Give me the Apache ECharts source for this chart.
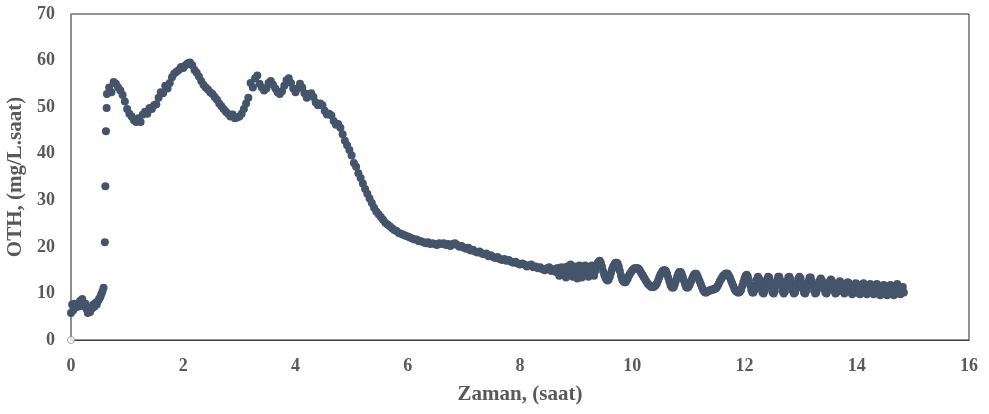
<!DOCTYPE html>
<html>
<head>
<meta charset="utf-8">
<script src="https://cdn.jsdelivr.net/npm/echarts@6/dist/echarts.min.js"></script>
<style>html,body{margin:0;padding:0;background:#fff;}#c{width:989px;height:414px;}</style>
</head>
<body>
<div id="c"></div>
<script>
// Axis definitions
const xTicks = [0, 2, 4, 6, 8, 10, 12, 14, 16];
const yTicks = [0, 10, 20, 30, 40, 50, 60, 70];
const xTitle = 'Zaman, (saat)';
const yTitle = 'OTH, (mg/L.saat)';

// Segment A: t = 0 .. 0.58 h, sampled every 0.02 h
const segAStart = 0, segAStep = 0.02;
const segAValues = [5.8,7.6,6.4,7.8,7.0,7.4,7.8,7.2,8.4,7.8,
                    8.8,8.0,7.2,7.8,6.6,5.8,6.6,6.0,7.0,6.8,
                    7.6,7.2,8.0,7.6,8.4,8.8,9.2,9.8,10.4,11.2];

// Jump (start-up) points
const jumpTimes  = [0.603, 0.612, 0.623, 0.635];
const jumpValues = [21.0, 33.0, 44.8, 49.8];

// Segment B: t = 0.64 .. 9.20 h, sampled every 0.04 h
const segBStart = 0.64, segBStep = 0.04;
const segBValues = [
  52.8,54.2,53.2,55.4,55.0,54.2,53.6,52.6,51.2,49.6,
  48.6,48.0,47.2,46.8,47.6,46.8,48.4,49.0,48.6,49.8,
  49.6,50.4,50.6,52.0,53.2,53.0,54.6,54.0,55.2,56.4,
  57.2,57.6,58.0,58.6,58.4,59.0,59.4,59.6,59.0,58.0,
  57.4,56.6,55.6,54.8,54.2,53.8,53.2,52.8,52.2,51.6,
  50.8,50.2,49.6,49.0,48.6,48.0,48.4,47.6,47.8,48.0,
  48.6,49.6,50.8,52.0,55.2,54.2,56.2,56.8,55.0,54.2,
  53.6,54.0,55.2,55.6,54.8,54.0,53.2,52.8,53.4,54.6,
  55.8,56.2,55.2,54.0,53.2,54.0,55.0,54.2,53.0,52.0,
  52.8,53.0,52.2,51.0,50.4,50.8,50.4,49.2,48.4,48.6,
  48.2,47.0,46.2,46.4,45.6,44.2,42.8,41.8,40.8,39.6,
  38.0,37.2,35.8,34.8,33.6,32.4,31.4,30.4,29.4,28.4,
  27.6,27.0,26.4,25.8,25.2,24.8,24.4,24.0,23.6,23.4,
  23.0,22.8,22.6,22.4,22.2,22.0,21.8,21.6,21.6,21.2,
  21.2,21.0,20.8,21.0,20.6,20.8,20.6,20.4,20.8,20.6,
  20.8,20.4,20.6,20.2,20.6,20.8,20.4,20.0,20.2,19.8,
  19.6,19.8,19.2,19.4,19.0,18.8,19.0,18.6,18.4,18.6,
  18.0,18.2,17.8,17.6,17.8,17.4,17.2,17.4,17.0,17.2,
  16.8,16.6,16.8,16.4,16.2,16.4,16.2,15.8,16.0,16.2,
  15.6,15.8,15.4,15.6,15.2,15.0,15.4,15.6,14.8,15.2,
  14.6,15.4,14.8,14.2,15.2,15.8,14.4,14.0,14.8,15.6,
  14.6,13.8,15.2,16.0,14.2
];

// Segment D: extra scattered readings in the noisy band, t = 8.66 .. 9.18 h every 0.04 h
const segDStart = 8.66, segDStep = 0.04;
const segDValues = [15.4,13.8,15.6,14.6,13.4,15.0,16.2,13.6,15.8,13.2,16.0,13.4,14.8,15.8];

// Segment C: t = 9.22 .. 14.84 h, sampled every 0.02 h
const segCStart = 9.22, segCStep = 0.02;
const segCValues = [
  13.6,15.4,14.4,16.0,15.0,13.8,14.8,15.8,16.4,16.8,
  17.0,16.6,15.8,14.8,14.0,13.4,13.0,12.8,13.0,13.6,
  14.4,15.2,15.8,16.2,16.6,16.6,16.4,15.8,14.8,13.8,
  13.0,12.6,12.4,12.4,12.8,13.2,13.8,14.2,14.6,15.0,
  15.2,15.4,15.4,15.4,15.4,15.2,14.8,14.4,14.0,13.6,
  13.2,12.8,12.4,12.0,11.8,11.6,11.4,11.4,11.4,11.6,
  11.8,12.2,12.8,13.4,14.0,14.4,14.8,15.0,15.0,14.8,
  14.2,13.4,12.6,11.8,11.4,11.2,11.4,12.0,12.8,13.6,
  14.2,14.6,14.6,14.2,13.6,12.8,12.0,11.4,11.2,11.4,
  11.8,12.4,13.0,13.6,14.0,14.2,14.2,13.8,13.2,12.6,
  12.0,11.4,10.8,10.4,10.2,10.2,10.4,10.6,10.6,10.8,
  10.8,10.8,11.0,11.0,11.2,11.6,12.0,12.6,13.0,13.4,
  13.8,14.0,14.2,14.3,14.2,13.8,13.4,12.8,12.2,11.6,
  11.0,10.6,10.4,10.2,10.2,10.4,10.8,11.6,12.4,13.2,
  13.8,14.0,13.6,12.8,11.8,10.8,10.2,10.2,10.8,11.8,
  13.0,13.6,13.2,12.2,11.0,10.2,10.0,10.6,11.8,13.0,
  13.6,13.4,12.4,11.2,10.2,10.0,10.6,11.8,12.8,13.6,
  13.6,12.8,11.6,10.4,10.0,10.4,11.4,12.6,13.4,13.6,
  13.0,11.8,10.6,10.0,10.2,11.0,12.2,13.2,13.6,13.2,
  12.2,11.0,10.2,10.0,10.6,11.6,12.6,13.4,13.4,12.6,
  11.6,10.6,10.0,10.2,11.0,12.0,12.8,13.2,12.8,12.0,
  11.0,10.2,10.0,10.6,11.6,12.6,13.0,12.6,11.6,10.6,
  10.0,10.2,11.0,12.0,12.6,12.2,11.2,10.4,10.0,10.6,
  11.6,12.4,12.2,11.2,10.2,9.8,10.4,11.4,12.2,12.0,
  11.0,10.0,9.8,10.6,11.6,12.2,11.6,10.4,9.8,10.2,
  11.2,12.0,11.4,10.2,9.8,10.2,11.2,12.0,11.4,10.2,
  9.6,10.0,11.0,11.8,11.6,10.4,9.6,9.8,11.0,11.8,
  11.4,10.2,9.6,10.0,11.2,12.0,11.2,10.0,9.8,10.4,
  11.4,10.2
];

// Origin marker (hollow)
const originPoint = [[0, 0]];

function segment(t0, dt, ys) {
  return ys.map((y, i) => [+(t0 + i * dt).toFixed(3), y]);
}
const mainData = []
  .concat(segment(segAStart, segAStep, segAValues))
  .concat(jumpTimes.map((t, i) => [t, jumpValues[i]]))
  .concat(segment(segBStart, segBStep, segBValues))
  .concat(segment(segDStart, segDStep, segDValues))
  .concat(segment(segCStart, segCStep, segCValues));

const FONT = '"Liberation Serif", "Times New Roman", serif';
const TXT = '#595959';
const chart = echarts.init(document.getElementById('c'), null, {renderer: 'canvas'});
chart.setOption({
  animation: false,
  backgroundColor: '#ffffff',
  grid: {left: 71, right: 20, top: 14, bottom: 74, containLabel: false, outerBoundsMode: 'none',
         show: true, borderColor: '#262626', borderWidth: 1, backgroundColor: 'transparent'},
  xAxis: {
    type: 'value', min: xTicks[0], max: xTicks[xTicks.length - 1], interval: 2,
    name: xTitle, nameLocation: 'middle', nameGap: 44,
    nameTextStyle: {fontFamily: FONT, fontWeight: 'bold', fontSize: 21, color: TXT},
    axisLine: {show: true, lineStyle: {color: '#404040', width: 1.2}},
    axisTick: {show: false},
    splitLine: {show: false},
    axisLabel: {fontFamily: FONT, fontWeight: 'bold', fontSize: 18, color: TXT, margin: 17}
  },
  yAxis: {
    type: 'value', min: yTicks[0], max: yTicks[yTicks.length - 1], interval: 10,
    name: yTitle, nameLocation: 'middle', nameGap: 42, nameRotate: 90,
    nameTextStyle: {fontFamily: FONT, fontWeight: 'bold', fontSize: 21, color: TXT},
    axisLine: {show: true, lineStyle: {color: '#8c8c8c', width: 1.5}},
    axisTick: {show: false},
    splitLine: {show: false},
    axisLabel: {fontFamily: FONT, fontWeight: 'bold', fontSize: 18, color: TXT, margin: 16}
  },
  series: [
    {type: 'scatter', data: mainData, symbol: 'circle', symbolSize: 8,
     itemStyle: {color: '#44546A', opacity: 1}},
    {type: 'scatter', data: originPoint, symbol: 'circle', symbolSize: 7, z: 5,
     itemStyle: {color: '#ffffff', borderColor: '#8c8c8c', borderWidth: 1}}
  ]
});
</script>
</body>
</html>
